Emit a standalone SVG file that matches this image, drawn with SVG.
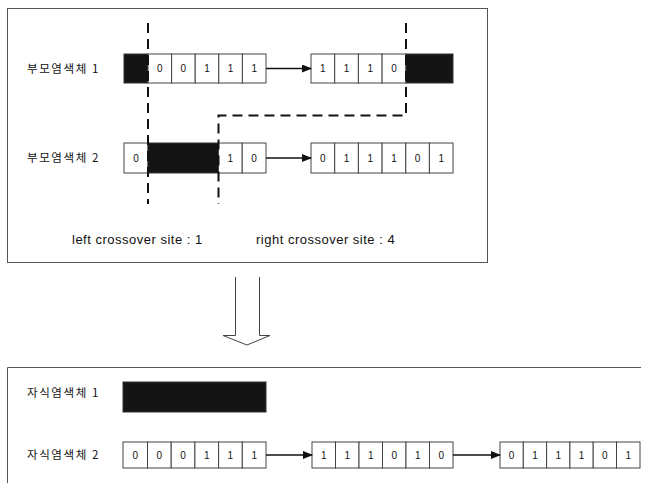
<svg xmlns="http://www.w3.org/2000/svg" width="654" height="483" viewBox="0 0 654 483">
<defs>
<style>
.frame{fill:none;stroke:#555;stroke-width:1}
.cell{fill:#fff;stroke:#444;stroke-width:1}
.dark{fill:#141414;stroke:#333;stroke-width:1}
.d{font-family:"Liberation Sans",Arial,sans-serif;font-size:10px;fill:#111;text-anchor:middle}
.lbl{font-family:"Noto Sans CJK KR","Liberation Sans",sans-serif;font-size:11.5px;fill:#111;letter-spacing:1.6px}
.cap{font-family:"Liberation Sans",Arial,sans-serif;font-size:13px;fill:#111;letter-spacing:0.5px}
.cut{fill:none;stroke:#111;stroke-width:2;stroke-dasharray:10 6}
.conn{stroke:#111;stroke-width:1.3;fill:none;marker-end:url(#ah)}
</style>
<marker id="ah" markerWidth="10" markerHeight="8" refX="9" refY="4" orient="auto" markerUnits="userSpaceOnUse">
<path d="M0,0 L10,4 L0,8 Z" fill="#111"/>
</marker>
</defs>
<rect width="654" height="483" fill="#fff"/>
<rect class="frame" x="7.5" y="8.5" width="480" height="254"/>
<path class="frame" d="M7.5,483 V367.5 H641"/>

<g id="parent1">
<text class="lbl" x="27" y="73">부모염색체 1</text>
<rect class="dark" x="124" y="54" width="24" height="29"/>
<rect class="cell" x="148" y="54" width="23.6" height="29"/>
<rect class="cell" x="171.6" y="54" width="23.6" height="29"/>
<rect class="cell" x="195.2" y="54" width="23.6" height="29"/>
<rect class="cell" x="218.8" y="54" width="23.6" height="29"/>
<rect class="cell" x="242.4" y="54" width="23.6" height="29"/>
<text class="d" x="159.8" y="72">0</text><text class="d" x="183.4" y="72">0</text><text class="d" x="207" y="72">1</text><text class="d" x="230.6" y="72">1</text><text class="d" x="254.2" y="72">1</text>
<rect class="cell" x="311" y="54" width="23.7" height="29"/>
<rect class="cell" x="334.7" y="54" width="23.7" height="29"/>
<rect class="cell" x="358.4" y="54" width="23.7" height="29"/>
<rect class="cell" x="382.1" y="54" width="23.9" height="29"/>
<rect class="dark" x="406" y="54" width="47" height="29"/>
<text class="d" x="322.9" y="72">1</text><text class="d" x="346.6" y="72">1</text><text class="d" x="370.3" y="72">1</text><text class="d" x="394" y="72">0</text>
</g>

<g id="parent2">
<text class="lbl" x="27" y="162">부모염색체 2</text>
<rect class="cell" x="124" y="143" width="24" height="30"/>
<rect class="dark" x="148" y="143" width="70.5" height="30"/>
<rect class="cell" x="218.5" y="143" width="23.7" height="30"/>
<rect class="cell" x="242.2" y="143" width="23.8" height="30"/>
<text class="d" x="136" y="161.5">0</text><text class="d" x="230.3" y="161.5">1</text><text class="d" x="254.1" y="161.5">0</text>
<rect class="cell" x="311" y="143" width="23.7" height="30"/>
<rect class="cell" x="334.7" y="143" width="23.7" height="30"/>
<rect class="cell" x="358.4" y="143" width="23.7" height="30"/>
<rect class="cell" x="382.1" y="143" width="23.7" height="30"/>
<rect class="cell" x="405.8" y="143" width="23.6" height="30"/>
<rect class="cell" x="429.4" y="143" width="23.6" height="30"/>
<text class="d" x="322.9" y="161.5">0</text><text class="d" x="346.6" y="161.5">1</text><text class="d" x="370.3" y="161.5">1</text><text class="d" x="394" y="161.5">1</text><text class="d" x="417.6" y="161.5">0</text><text class="d" x="441.2" y="161.5">1</text>
</g>

<g id="crossover-lines">
<path class="cut" d="M148,23 V204"/>
<path class="cut" d="M406,23 V115.5 H218.5 V204"/>
</g>

<g id="captions">
<text class="cap" x="72" y="244">left crossover site : 1</text>
<text class="cap" x="256" y="244">right crossover site : 4</text>
</g>

<g id="down-arrow">
<path d="M235.5,277 V335.5 H223 L247,345 L270,335.5 H259.5 V277" fill="#fff" stroke="#444" stroke-width="1"/>
</g>

<g id="child1">
<text class="lbl" x="27" y="397">자식염색체 1</text>
<rect class="dark" x="123" y="382" width="143" height="30"/>
</g>

<g id="child2">
<text class="lbl" x="27" y="459">자식염색체 2</text>
<rect class="cell" x="123" y="442" width="24.5" height="26"/>
<rect class="cell" x="147.5" y="442" width="23.7" height="26"/>
<rect class="cell" x="171.2" y="442" width="23.7" height="26"/>
<rect class="cell" x="194.9" y="442" width="23.7" height="26"/>
<rect class="cell" x="218.6" y="442" width="23.7" height="26"/>
<rect class="cell" x="242.3" y="442" width="23.7" height="26"/>
<text class="d" x="135.3" y="459">0</text><text class="d" x="159.4" y="459">0</text><text class="d" x="183" y="459">0</text><text class="d" x="206.8" y="459">1</text><text class="d" x="230.4" y="459">1</text><text class="d" x="254.2" y="459">1</text>
<rect class="cell" x="312" y="442" width="23.5" height="26"/>
<rect class="cell" x="335.5" y="442" width="23.5" height="26"/>
<rect class="cell" x="359" y="442" width="23.5" height="26"/>
<rect class="cell" x="382.5" y="442" width="23.5" height="26"/>
<rect class="cell" x="406" y="442" width="23.5" height="26"/>
<rect class="cell" x="429.5" y="442" width="23.5" height="26"/>
<text class="d" x="323.8" y="459">1</text><text class="d" x="347.3" y="459">1</text><text class="d" x="370.8" y="459">1</text><text class="d" x="394.3" y="459">0</text><text class="d" x="417.8" y="459">1</text><text class="d" x="441.3" y="459">0</text>
<rect class="cell" x="500" y="442" width="23.3" height="26"/>
<rect class="cell" x="523.3" y="442" width="23.3" height="26"/>
<rect class="cell" x="546.6" y="442" width="23.3" height="26"/>
<rect class="cell" x="569.9" y="442" width="23.3" height="26"/>
<rect class="cell" x="593.2" y="442" width="23.3" height="26"/>
<rect class="cell" x="616.5" y="442" width="23.5" height="26"/>
<text class="d" x="511.6" y="459">0</text><text class="d" x="535" y="459">1</text><text class="d" x="558.2" y="459">1</text><text class="d" x="581.6" y="459">1</text><text class="d" x="604.8" y="459">0</text><text class="d" x="628.2" y="459">1</text>
</g>

<g id="connectors">
<line class="conn" x1="266" y1="68.5" x2="311" y2="68.5"/>
<line class="conn" x1="266" y1="158" x2="311" y2="158"/>
<line class="conn" x1="266" y1="455" x2="312" y2="455"/>
<line class="conn" x1="453" y1="455" x2="500" y2="455"/>
</g>
</svg>
